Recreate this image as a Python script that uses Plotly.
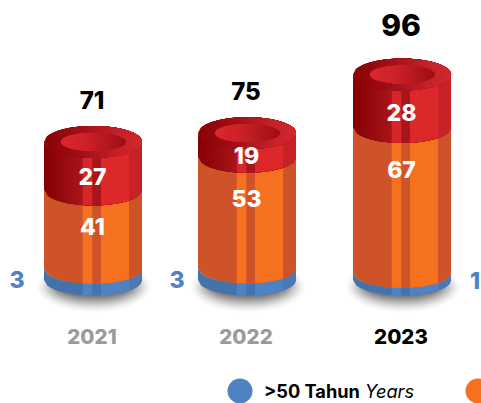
import numpy as np
import plotly.graph_objects as go

# ---- data ----
years = ["2021", "2022", "2023"]
over_50 = [3, 3, 1]
mid_group = [41, 53, 67]
top_group = [27, 19, 28]
totals = [71, 75, 96]
legend_label = "<b>&gt;50 Tahun</b> <i>Years</i>"

# ---- drawing scale: px per unit; the source graphic is not strictly proportional ----
scale_blue = [3.85, 4.0, 7.5]
scale_orange = [1.915, 2.09, 2.165]
scale_red = [1.78, 1.27, 1.89]

# ---- layout constants (pixels) ----
W, H = 481, 403
BASE_PX = 280.0
centers = [93, 247, 402]
HW, HH = 49, 15.5
HOLE_W, HOLE_H = 32.5, 9
strip_starts = [-49, -10.3, -0.7, 8, 36]
ORANGE = ["#CE5328", "#F5711F", "#CE5328", "#F5711F", "#CE5328"]
BLUE = ["#4472AB", "#4F82C3", "#4472AB", "#4F82C3", "#4A79B3"]
RED = [None, "#D6262B", "#A91519", "#DC2829", "#C92226"]
year_colors = ["#9A9A9E", "#9A9A9E", "#000000"]
FONT = "Inter"


def y_of(px):
    return BASE_PX - px


def lerp(c1, c2, t):
    a = [int(c1[i:i + 2], 16) for i in (1, 3, 5)]
    b = [int(c2[i:i + 2], 16) for i in (1, 3, 5)]
    return "rgb(%d,%d,%d)" % tuple(round(a[k] + (b[k] - a[k]) * t) for k in range(3))


def multi_lerp(stops, t):
    for (t0, c0), (t1, c1) in zip(stops, stops[1:]):
        if t <= t1:
            return lerp(c0, c1, (t - t0) / (t1 - t0) if t1 > t0 else 0)
    return stops[-1][1]


fig = go.Figure()


def poly(xs, ys, color):
    fig.add_trace(go.Scatter(x=xs, y=ys, mode="lines", fill="toself", fillcolor=color,
                             line=dict(width=0), hoverinfo="skip", showlegend=False))


def front(dx, hw=HW, hh=HH):
    return hh * np.sqrt(np.clip(1 - (np.asarray(dx) / hw) ** 2, 0, 1))


def band(cx, d0, y_top, y_bot, color):
    """Cylinder wall from d0 to the right edge; later strips paint over earlier ones."""
    d = np.linspace(d0, HW, 30)
    xs = np.r_[cx + d, (cx + d)[::-1], cx + d0]
    ys = np.r_[y_top - front(d), (y_bot - front(d))[::-1], y_top - front(d0)]
    poly(xs, ys, color)


def ellipse_from(cx, cy, hw, hh, d0, color):
    d = np.linspace(d0, hw, 40)
    h = front(d, hw, hh)
    xs = np.r_[cx + d, (cx + d)[::-1], cx + d0]
    ys = np.r_[cy + h, (cy - h)[::-1], cy + h[0]]
    poly(xs, ys, color)


def gradient_ellipse(cx, cy, hw, hh, stops, n=30):
    edges = np.linspace(-hw, hw, n + 1)
    for i in range(n):
        ellipse_from(cx, cy, hw, hh, edges[i], multi_lerp(stops, (i + 0.5) / n))


for i, cx in enumerate(centers):
    # soft ground shadow
    layers = 28
    for k in range(layers):
        f = k / (layers - 1)
        th = np.linspace(0, 2 * np.pi, 80)
        poly(cx + 1 + (58 - 22 * f) * np.cos(th),
             y_of(287) + (26 - 16 * f) * np.sin(th),
             "rgba(0,0,0,%.4f)" % (0.006 + 0.034 * f))

    b = over_50[i] * scale_blue[i]
    o = b + mid_group[i] * scale_orange[i]
    r = o + top_group[i] * scale_red[i]

    # stacked wall segments, bottom up
    for d0, c in zip(strip_starts, BLUE):
        band(cx, d0, b, 0, c)
    for d0, c in zip(strip_starts, ORANGE):
        band(cx, d0, o, b, c)
    n = 12
    edges = np.linspace(-49, -10.3, n + 1)
    for k in range(n):
        band(cx, edges[k], r, o, lerp("#850003", "#A8151B", (k + 0.5) / n))
    for d0, c in zip(strip_starts, RED):
        if c:
            band(cx, d0, r, o, c)

    # top face and inner hole
    gradient_ellipse(cx, r, HW, HH + 0.5,
                     [(0, "#8A0105"), (0.45, "#A5131A"), (0.75, "#C4212A"), (1, "#D2272B")])
    gradient_ellipse(cx, r, HOLE_W, HOLE_H,
                     [(0, "#DA282C"), (0.4, "#CC2227"), (1, "#9C0E13")])

# ---- text ----
def text(xs, ys, labels, size, color, weight=700, pos="middle center"):
    fig.add_trace(go.Scatter(x=xs, y=ys, mode="text", text=labels, textposition=pos,
                             textfont=dict(family=FONT, size=size, color=color, weight=weight),
                             cliponaxis=False, hoverinfo="skip", showlegend=False))


# total labels above each cylinder
total_px = [102.5, 93.5, 28.5]
total_size = [24, 24, 30]
for i in range(3):
    text([centers[i] - 1], [y_of(total_px[i])], [str(totals[i])], total_size[i], "#000000", 800)

# inner labels
red_px = [179, 158, 115]
orange_px = [229, 201, 172]
for i in range(3):
    text([centers[i] - 0.5], [y_of(red_px[i])], [str(top_group[i])], 23, "#FFFFFF", 800)
    text([centers[i] - 0.5], [y_of(orange_px[i])], [str(mid_group[i])], 23, "#FFFFFF", 800)

# small group labels outside the cylinders
side_x = [17, 177, 475]
side_px = [282, 282, 283]
for i in range(3):
    text([side_x[i]], [y_of(side_px[i])], [str(over_50[i])], 23, "#4F82C3", 800)

# year labels
for i in range(3):
    text([centers[i] - 1], [y_of(339)], [years[i]], 20.5, year_colors[i], 800)

# legend
fig.add_trace(go.Scatter(x=[240, 478], y=[y_of(391), y_of(391)], mode="markers",
                         marker=dict(size=25, color=["#4F82C3", "#F5711F"], line=dict(width=0)),
                         cliponaxis=False, hoverinfo="skip", showlegend=False))
text([264], [y_of(393)], [legend_label], 18.2, "#000000", 400, "middle right")

fig.update_layout(
    width=W, height=H, autosize=False, margin=dict(l=0, r=0, t=0, b=0),
    paper_bgcolor="white", plot_bgcolor="white", showlegend=False,
    xaxis=dict(range=[0, W], visible=False, fixedrange=True),
    yaxis=dict(range=[BASE_PX - H, BASE_PX], visible=False, fixedrange=True),
)
fig.write_html("out.html", config=dict(displayModeBar=False),
               post_script="document.body.style.margin='0';document.body.style.overflow='hidden';")
